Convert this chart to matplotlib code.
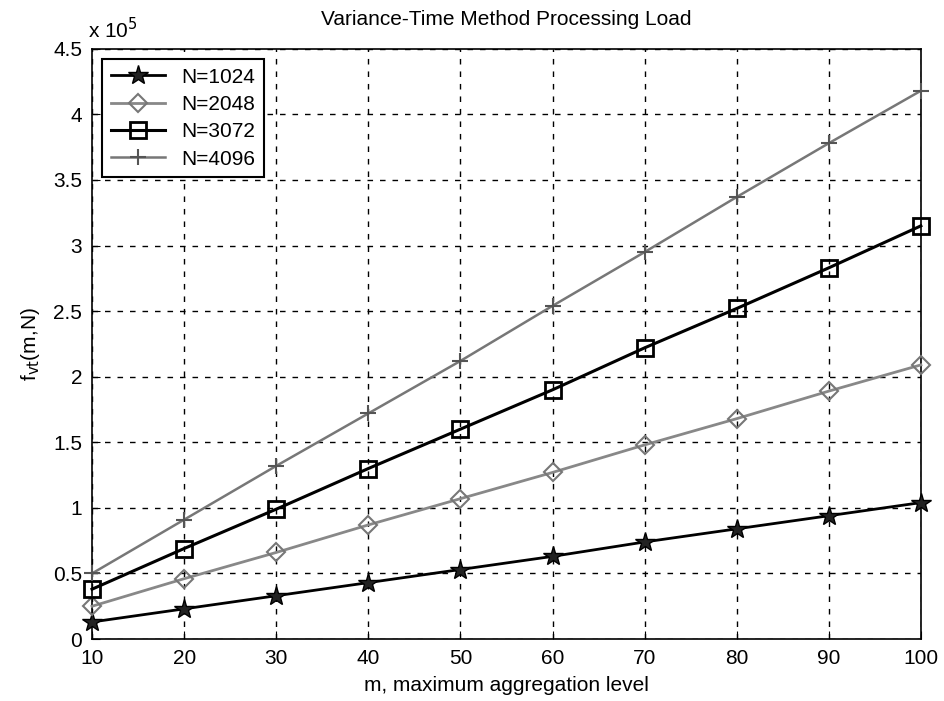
import numpy as np
import matplotlib.pyplot as plt
from matplotlib.ticker import FuncFormatter

# nivel de agregacion m
m = [10, 20, 30, 40, 50, 60, 70, 80, 90, 100]

# carga de procesamiento (x 1e5)
n1024 = [0.13, 0.23, 0.33, 0.43, 0.53, 0.63, 0.74, 0.84, 0.94, 1.04]
n2048 = [0.25, 0.46, 0.66, 0.87, 1.07, 1.27, 1.48, 1.68, 1.89, 2.09]
n3072 = [0.38, 0.69, 0.99, 1.30, 1.60, 1.90, 2.22, 2.52, 2.83, 3.15]
n4096 = [0.50, 0.91, 1.32, 1.72, 2.12, 2.54, 2.95, 3.37, 3.78, 4.18]

escala = 1e5
plt.rcParams['font.family'] = ['Liberation Sans', 'DejaVu Sans']

fig = plt.figure(figsize=(9.44, 7.01), dpi=100)
ax = fig.add_axes([0.0975, 0.0884, 0.878, 0.842])

ax.plot(m, np.array(n1024) * escala, color='black', lw=2, marker='*', ms=15,
        mfc='#222222', mec='black', label='N=1024', clip_on=False, zorder=3)
ax.plot(m, np.array(n2048) * escala, color='#888888', lw=2, marker='D', ms=9,
        mfc='none', mec='#777777', mew=1.5, label='N=2048', clip_on=False, zorder=3)
ax.plot(m, np.array(n3072) * escala, color='black', lw=2.2, marker='s', ms=12,
        mfc='none', mec='black', mew=2, label='N=3072', clip_on=False, zorder=3)
ax.plot(m, np.array(n4096) * escala, color='#777777', lw=1.8, marker='+', ms=12,
        mec='#555555', mew=1.5, label='N=4096', clip_on=False, zorder=3)

ax.set_xlim(10, 100)
ax.set_ylim(0, 4.5 * escala)
ax.set_xticks(m)
ax.set_yticks(np.arange(0, 4.51, 0.5) * escala)
ax.yaxis.set_major_formatter(FuncFormatter(lambda v, p: '%g' % (v / escala)))
ax.tick_params(direction='in', labelsize=15, length=6, pad=7)

ax.grid(True, color='black', linestyle=(0, (4, 5)), lw=1)
for s in ax.spines.values():
    s.set_linewidth(1.2)

ax.set_title('Variance-Time Method Processing Load', fontsize=15, pad=17)
ax.set_xlabel('m, maximum aggregation level', fontsize=15, labelpad=6)
ax.set_ylabel('f$_{\\mathrm{vt}}$(m,N)', fontsize=15, labelpad=8)
ax.text(-0.005, 1.012, 'x 10$^5$', transform=ax.transAxes, fontsize=15,
        ha='left', va='bottom')

leg = ax.legend(loc='upper left', fontsize=15, fancybox=False, framealpha=1,
                edgecolor='black', borderaxespad=0.5, handlelength=2.6,
                labelspacing=0.4)
leg.get_frame().set_linewidth(1.5)

plt.savefig('out.png', dpi=100)
